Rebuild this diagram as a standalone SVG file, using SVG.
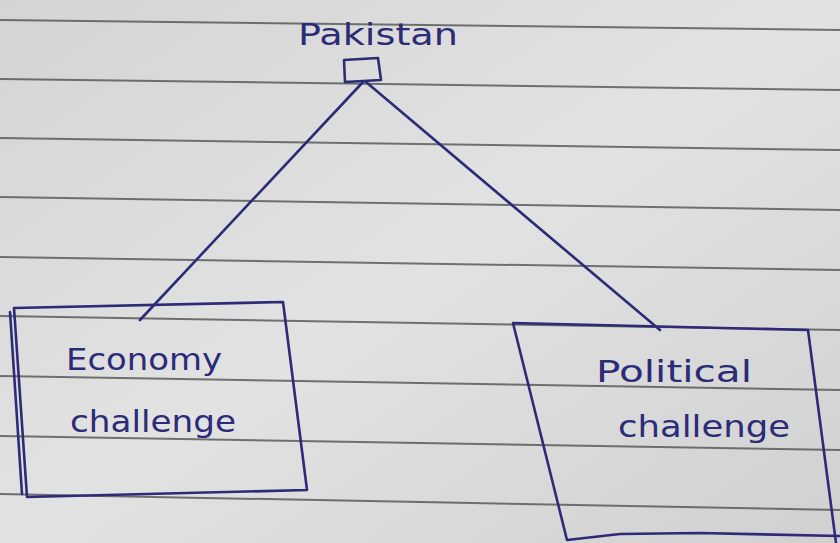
<svg xmlns="http://www.w3.org/2000/svg" width="840" height="543" viewBox="0 0 840 543">
<style>
.ink{fill:none;stroke:#2b2b78;stroke-width:2.6;stroke-linejoin:round;stroke-linecap:round}
.rule{stroke:#4a4a4a;stroke-width:2;opacity:0.75}
.lbl{font-family:"DejaVu Sans",sans-serif;fill:#2b2b78;font-size:30px}
</style>
<defs>
<linearGradient id="paper" x1="0" y1="0" x2="1" y2="1">
<stop offset="0" stop-color="#d4d4d4"/>
<stop offset="0.5" stop-color="#e2e2e2"/>
<stop offset="1" stop-color="#d0d0d0"/>
</linearGradient>
</defs>
<rect width="840" height="543" fill="url(#paper)"/>
<g id="ruled-lines">
<line class="rule" x1="0" y1="20" x2="840" y2="30"/>
<line class="rule" x1="0" y1="79" x2="840" y2="90"/>
<line class="rule" x1="0" y1="138" x2="840" y2="150"/>
<line class="rule" x1="0" y1="197" x2="840" y2="210"/>
<line class="rule" x1="0" y1="257" x2="840" y2="270"/>
<line class="rule" x1="0" y1="316" x2="840" y2="330"/>
<line class="rule" x1="0" y1="376" x2="840" y2="390"/>
<line class="rule" x1="0" y1="436" x2="840" y2="450"/>
<line class="rule" x1="0" y1="494" x2="840" y2="510"/>
</g>
<g id="connectors">
<path class="ink" d="M363 82 L140 320"/>
<path class="ink" d="M366 82 L660 330"/>
</g>
<g id="node-pakistan">
<path class="ink" d="M344 60 L378 58 L381 80 L345 82 Z"/>
<text class="lbl" x="298" y="45" textLength="160" lengthAdjust="spacingAndGlyphs">Pakistan</text>
</g>
<g id="node-economy">
<path class="ink" d="M14 308 L283 302 L307 490 L27 497 Z"/>
<path class="ink" d="M10 312 L22 494"/>
<text class="lbl" x="66" y="370" textLength="156" lengthAdjust="spacingAndGlyphs">Economy</text>
<text class="lbl" x="70" y="432" textLength="166" lengthAdjust="spacingAndGlyphs">challenge</text>
</g>
<g id="node-political">
<path class="ink" d="M808 330 L513 323 L567 540 L620 534 L700 533 L840 536 M808 330 L836 543"/>
<text class="lbl" x="596" y="382" textLength="156" lengthAdjust="spacingAndGlyphs">Political</text>
<text class="lbl" x="618" y="437" textLength="172" lengthAdjust="spacingAndGlyphs">challenge</text>
</g>
</svg>
